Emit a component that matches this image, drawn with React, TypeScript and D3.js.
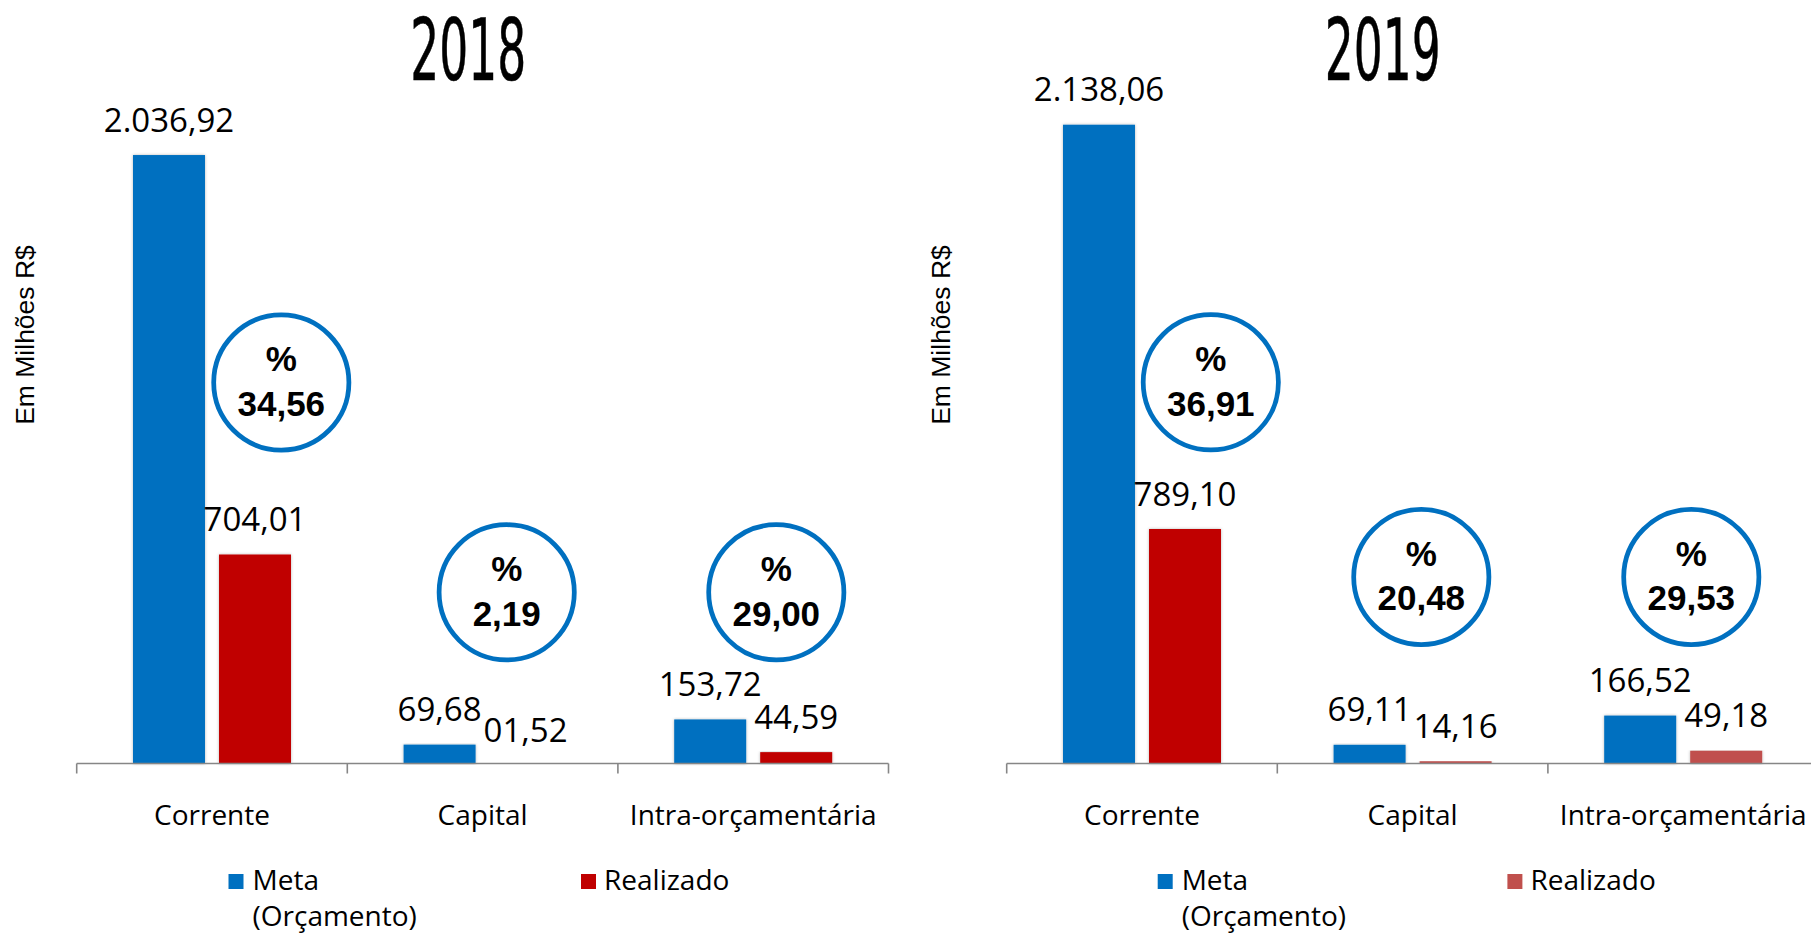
import React from "react";
import * as d3 from "d3";

// ---- data ----
const years = ["2018", "2019"];
const categories = ["Corrente", "Capital", "Intra-orçamentária"];
const seriesNames = ["Meta", "Realizado"];
const meta2018 = [2036.92, 69.68, 153.72];
const realizado2018 = [704.01, 1.52, 44.59];
const meta2019 = [2138.06, 69.11, 166.52];
const realizado2019 = [789.1, 14.16, 49.18];
const pct2018 = [34.56, 2.19, 29.0];
const pct2019 = [36.91, 20.48, 29.53];
const yAxisTitle = "Em Milhões R$";
const legendLabels = [["Meta", "(Orçamento)"], ["Realizado"]];

// ---- layout / style ----
const W = 1811;
const H = 934;
const BLUE = "#0070C0";
const RED = "#C00000";
const RED_LIGHT = "#C0504D";
const BAND = 270.6;
const AXIS_Y = 763.5;
const Y0 = 765.5;
const PX_PER_UNIT = 0.2997;
const YMAX = 2200;

const panels = [
  {
    year: years[0],
    meta: meta2018,
    real: realizado2018,
    pct: pct2018,
    x0: 76.7,
    titleX: 468.3,
    yTitleX: 33.5,
    legendBlueX: 228.5,
    legendRedX: 581,
    circles: [
      [281.3, 382.5],
      [506.7, 592.3],
      [776.3, 592.3],
    ],
    realColors: [RED, RED, RED],
    legendRed: RED,
  },
  {
    year: years[1],
    meta: meta2019,
    real: realizado2019,
    pct: pct2019,
    x0: 1006.7,
    titleX: 1382.8,
    yTitleX: 950,
    legendBlueX: 1157.7,
    legendRedX: 1507.4,
    circles: [
      [1210.8, 382.3],
      [1421.3, 577],
      [1691.3, 577],
    ],
    realColors: [RED, RED_LIGHT, RED_LIGHT],
    legendRed: RED_LIGHT,
  },
];

const locale = d3.formatLocale({
  decimal: ",",
  thousands: ".",
  grouping: [3],
  currency: ["R$ ", ""],
});
const fmtValue = locale.format("05,.2f");
const fmtPct = locale.format(",.2f");

const y = d3.scaleLinear().domain([0, YMAX]).range([Y0, Y0 - YMAX * PX_PER_UNIT]);

const LABEL_FONT = "'Open Sans', 'DejaVu Sans', sans-serif";
const BOLD_FONT = "'Liberation Sans', Arial, sans-serif";

function Panel({ p }: { p: (typeof panels)[number] }) {
  const x = d3
    .scaleBand<string>()
    .domain(categories)
    .range([p.x0, p.x0 + BAND * categories.length])
    .paddingInner(0)
    .paddingOuter(0);
  const bw = x.bandwidth();
  const x1 = d3
    .scaleBand<string>()
    .domain(seriesNames)
    .range([bw / 2 - 79, bw / 2 + 79])
    .paddingInner(0.163)
    .paddingOuter(0);

  const tickXs = categories
    .map((c) => x(c) as number)
    .concat([(x(categories[categories.length - 1]) as number) + bw]);

  return (
    <g>
      {/* title */}
      <text
        transform={`translate(${p.titleX},80) scale(0.53,1)`}
        textAnchor="middle"
        fontFamily="'DejaVu Sans', sans-serif"
        fontSize={86}
        fill="#000"
        stroke="#000"
        strokeWidth={0.6}
      >
        {p.year}
      </text>

      {/* y axis title */}
      <text
        transform={`translate(${p.yTitleX},335) rotate(-90)`}
        textAnchor="middle"
        fontFamily={BOLD_FONT}
        fontSize={26.5}
        fill="#000"
      >
        {yAxisTitle}
      </text>

      {/* bars */}
      {categories.map((c, i) => {
        const vals = [p.meta[i], p.real[i]];
        return (
          <g key={c} transform={`translate(${x(c)},0)`}>
            {vals.map((v, j) => {
              const top = y(v);
              const h = Math.max(0, AXIS_Y - top);
              const bx = x1(seriesNames[j]) as number;
              const color = j === 0 ? BLUE : p.realColors[i];
              return (
                <g key={j}>
                  {h > 0 && (
                    <rect
                      x={bx}
                      y={top}
                      width={x1.bandwidth()}
                      height={h}
                      fill={color}
                      filter="url(#shadow)"
                    />
                  )}
                  <text
                    x={bx + x1.bandwidth() / 2}
                    y={top - 23.5}
                    textAnchor="middle"
                    fontFamily={LABEL_FONT}
                    fontSize={33}
                    fill="#000"
                  >
                    {fmtValue(v)}
                  </text>
                </g>
              );
            })}
          </g>
        );
      })}

      {/* axis */}
      <line
        x1={p.x0}
        x2={p.x0 + BAND * categories.length}
        y1={AXIS_Y}
        y2={AXIS_Y}
        stroke="#868686"
        strokeWidth={1.6}
      />
      {tickXs.map((tx, i) => (
        <line key={i} x1={tx} x2={tx} y1={AXIS_Y} y2={AXIS_Y + 10} stroke="#868686" strokeWidth={1.6} />
      ))}
      {categories.map((c) => (
        <text
          key={c}
          x={(x(c) as number) + bw / 2}
          y={825}
          textAnchor="middle"
          fontFamily={LABEL_FONT}
          fontSize={28}
          fill="#000"
        >
          {c}
        </text>
      ))}

      {/* percentage circles */}
      {p.circles.map(([cx, cy], i) => (
        <g key={i}>
          <circle cx={cx} cy={cy} r={67.6} fill="#fff" stroke={BLUE} strokeWidth={4.75} />
          <text x={cx} y={cy - 11.3} textAnchor="middle" fontFamily={BOLD_FONT} fontWeight="bold" fontSize={35} fill="#000">
            %
          </text>
          <text x={cx} y={cy + 33.4} textAnchor="middle" fontFamily={BOLD_FONT} fontWeight="bold" fontSize={35} fill="#000">
            {fmtPct(p.pct[i])}
          </text>
        </g>
      ))}

      {/* legend */}
      <rect x={p.legendBlueX} y={874} width={15} height={15} fill={BLUE} />
      {legendLabels[0].map((t, k) => (
        <text key={k} x={p.legendBlueX + 24} y={890 + k * 36} fontFamily={LABEL_FONT} fontSize={28} fill="#000">
          {t}
        </text>
      ))}
      <rect x={p.legendRedX} y={874} width={15} height={15} fill={p.legendRed} />
      {legendLabels[1].map((t, k) => (
        <text key={k} x={p.legendRedX + 23} y={890 + k * 36} fontFamily={LABEL_FONT} fontSize={28} fill="#000">
          {t}
        </text>
      ))}
    </g>
  );
}

export default function App() {
  return (
    <svg
      width={W}
      height={H}
      viewBox={`0 0 ${W} ${H}`}
      style={{ position: "fixed", left: 0, top: 0, display: "block", background: "#fff" }}
    >
      <defs>
        <filter id="shadow" x="-20%" y="-5%" width="140%" height="110%">
          <feDropShadow dx="0" dy="0" stdDeviation="1.6" floodColor="#000" floodOpacity="0.28" />
        </filter>
      </defs>
      <rect x={0} y={0} width={W} height={H} fill="#fff" />
      {panels.map((p) => (
        <Panel key={p.year} p={p} />
      ))}
    </svg>
  );
}
